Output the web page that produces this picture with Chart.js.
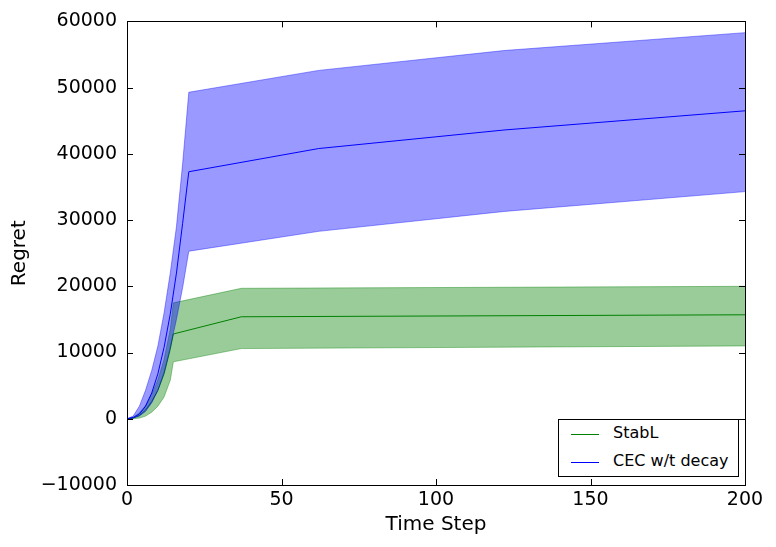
<!DOCTYPE html>
<html>
<head>
<meta charset="utf-8">
<script src="https://cdn.jsdelivr.net/npm/chart.js@4.4.1/dist/chart.umd.min.js"></script>
<style>
  body { margin: 0; background: #fff; }
  #wrap { position: relative; width: 776px; height: 547px; }
  #leyenda {
    position: absolute; left: 558px; top: 419px; width: 179px; height: 56px;
    border: 1px solid #000; background: #fff;
    font-family: "DejaVu Sans", sans-serif; font-size: 16px; color: #000;
  }
  .item { position: absolute; left: 12px; height: 20px; line-height: 20px; white-space: nowrap; }
  .item span.linea { position: absolute; left: 0; top: 10px; width: 28px; height: 0; border-top: 1px solid; }
  .item span.txt { position: absolute; left: 42px; top: -1px; }
</style>
</head>
<body>
<div id="wrap">
  <canvas id="graficoRegret" width="776" height="547"></canvas>
  <div id="leyenda"></div>
</div>
<script>
// datos
const pasosStabL = [0, 2, 4, 6, 8, 10, 12, 14, 15, 37, 200];
const mediaStabL = [0, 100, 500, 1300, 2600, 4300, 6800, 10500, 12800, 15400, 15700];
const superiorStabL = [0, 200, 900, 2000, 3700, 5900, 9000, 13500, 17500, 19700, 20000];
const inferiorStabL = [0, 0, 100, 400, 1000, 1900, 3300, 5800, 8600, 10600, 11000];

const pasosCEC = [0, 2, 4, 6, 8, 10, 12, 14, 16, 18, 20, 62, 122, 200];
const mediaCEC = [0, 200, 700, 1900, 3900, 6800, 10800, 15800, 22000, 29500, 37300, 40800, 43600, 46500];
const superiorCEC = [0, 400, 1900, 4300, 7300, 11000, 16000, 22000, 29000, 38500, 49300, 52600, 55600, 58300];
const inferiorCEC = [0, 100, 400, 1100, 2400, 4300, 7000, 10800, 15000, 19800, 25300, 28300, 31300, 34300];

const ticksX = [0, 50, 100, 150, 200];
const ticksY = [-10000, 0, 10000, 20000, 30000, 40000, 50000, 60000];

const etiquetas = ['StabL', 'CEC w/t decay'];
const coloresLinea = ['rgb(0, 128, 0)', 'rgb(0, 0, 255)'];
const coloresBanda = ['rgba(0, 128, 0, 0.4)', 'rgba(0, 0, 255, 0.4)'];

function puntos(xs, ys) {
    return xs.map((x, i) => ({ x: x, y: ys[i] }));
}

function formatoTick(v) {
    return v < 0 ? '\u2212' + Math.abs(v) : String(v);
}

// marcas hacia dentro en los cuatro lados y el marco
const marcoPlugin = {
    id: 'marco',
    afterDraw(chart) {
        const ctx = chart.ctx;
        const a = chart.chartArea;
        const sx = chart.scales.x, sy = chart.scales.y;
        const largo = 6;
        ctx.save();
        ctx.strokeStyle = '#000';
        ctx.lineWidth = 1;
        ctx.beginPath();
        ticksX.forEach(v => {
            const px = Math.round(sx.getPixelForValue(v)) + 0.5;
            ctx.moveTo(px, a.bottom); ctx.lineTo(px, a.bottom - largo);
            ctx.moveTo(px, a.top); ctx.lineTo(px, a.top + largo);
        });
        ticksY.forEach(v => {
            const py = Math.round(sy.getPixelForValue(v)) + 0.5;
            ctx.moveTo(a.left, py); ctx.lineTo(a.left + largo, py);
            ctx.moveTo(a.right, py); ctx.lineTo(a.right - largo, py);
        });
        ctx.stroke();
        ctx.strokeRect(Math.round(a.left) + 0.5, Math.round(a.top) + 0.5,
            Math.round(a.right - a.left), Math.round(a.bottom - a.top));
        ctx.restore();
    }
};

function configuracionGrafica() {
    const fuente = { family: '"DejaVu Sans", sans-serif', size: 19 };
    return {
        type: 'line',
        data: {
            datasets: [
                { label: etiquetas[0], data: puntos(pasosStabL, mediaStabL), borderColor: coloresLinea[0],
                  borderWidth: 1, pointRadius: 0, fill: false, order: 3 },
                { label: etiquetas[1], data: puntos(pasosCEC, mediaCEC), borderColor: coloresLinea[1],
                  borderWidth: 1, pointRadius: 0, fill: false, order: 1 },
                { label: 'StabL sup', data: puntos(pasosStabL, superiorStabL), borderColor: coloresBanda[0],
                  backgroundColor: coloresBanda[0], borderWidth: 1, pointRadius: 0, fill: 3, order: 4 },
                { label: 'StabL inf', data: puntos(pasosStabL, inferiorStabL), borderColor: coloresBanda[0],
                  borderWidth: 1, pointRadius: 0, fill: false, order: 4 },
                { label: 'CEC sup', data: puntos(pasosCEC, superiorCEC), borderColor: coloresBanda[1],
                  backgroundColor: coloresBanda[1], borderWidth: 1, pointRadius: 0, fill: 5, order: 2 },
                { label: 'CEC inf', data: puntos(pasosCEC, inferiorCEC), borderColor: coloresBanda[1],
                  borderWidth: 1, pointRadius: 0, fill: false, order: 2 }
            ]
        },
        options: {
            responsive: false,
            animation: false,
            layout: { padding: { top: 19, right: 31, left: 0, bottom: 0 } },
            elements: { line: { tension: 0 } },
            plugins: {
                legend: { display: false },
                tooltip: { enabled: false }
            },
            scales: {
                x: {
                    type: 'linear', min: 0, max: 200,
                    grid: { display: false, drawTicks: false },
                    border: { display: false },
                    afterBuildTicks: s => { s.ticks = ticksX.map(v => ({ value: v })); },
                    afterFit: s => { s.height = 62; },
                    ticks: { font: fuente, color: '#000', padding: 4, maxRotation: 0, callback: formatoTick },
                    title: { display: true, text: 'Time Step', color: '#000',
                             font: { family: '"DejaVu Sans", sans-serif', size: 20 }, padding: { top: 0, bottom: 10 } }
                },
                y: {
                    type: 'linear', min: -10000, max: 60000,
                    grid: { display: false, drawTicks: false },
                    border: { display: false },
                    afterBuildTicks: s => { s.ticks = ticksY.map(v => ({ value: v })); },
                    afterFit: s => { s.width = 127; },
                    ticks: { font: fuente, color: '#000', padding: 10, callback: formatoTick },
                    title: { display: true, text: 'Regret', color: '#000',
                             font: { family: '"DejaVu Sans", sans-serif', size: 20 }, padding: { top: 8, bottom: 0 } }
                }
            }
        },
        plugins: [marcoPlugin]
    };
}

function construirLeyenda() {
    const caja = document.getElementById('leyenda');
    etiquetas.forEach((t, i) => {
        const d = document.createElement('div');
        d.className = 'item';
        d.style.top = (4 + i * 28) + 'px';
        d.innerHTML = '<span class="linea" style="border-color:' + coloresLinea[i] + '"></span><span class="txt"></span>';
        d.querySelector('.txt').textContent = t;
        caja.appendChild(d);
    });
}

document.addEventListener('DOMContentLoaded', () => {
    const lienzo = document.getElementById('graficoRegret');
    if (lienzo) {
        new Chart(lienzo, configuracionGrafica());
        construirLeyenda();
    } else {
        console.error('No se encontró el canvas');
    }
});
</script>
</body>
</html>
